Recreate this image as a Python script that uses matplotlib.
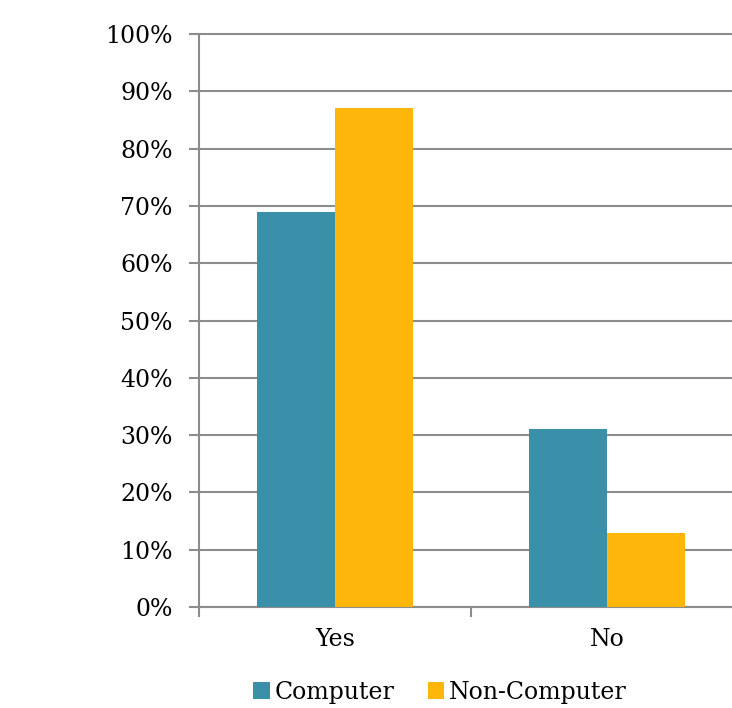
import matplotlib
matplotlib.use("Agg")
import matplotlib.pyplot as plt
import numpy as np
from matplotlib.ticker import FuncFormatter, MultipleLocator

categories = ["Yes", "No"]
series_names = ["Computer", "Non-Computer"]
computer = [69, 31]
non_computer = [87, 13]
colors = ["#3A90A8", "#FFB60B"]

plt.rcParams['font.family'] = ['DejaVu Serif']

fig = plt.figure(figsize=(7.32, 7.08), dpi=100)
W, H = 732, 708
left, right, bottom, top = 199, 743, 607, 34
ax = fig.add_axes([left / W, (H - bottom) / H, (right - left) / W, (bottom - top) / H])

x = np.arange(len(categories))
bw = 0.287
ax.bar(x - bw / 2, computer, bw, color=colors[0], label=series_names[0], zorder=3)
ax.bar(x + bw / 2, non_computer, bw, color=colors[1], label=series_names[1], zorder=3)

ax.set_xlim(-0.5, 1.5)
ax.set_ylim(0, 100)
ax.yaxis.set_major_locator(MultipleLocator(10))
ax.yaxis.set_major_formatter(FuncFormatter(lambda v, p: f"{int(v)}%"))
ax.grid(axis='y', color='#8C8C8C', linewidth=1.5, zorder=0)
for gl in ax.get_ygridlines():
    gl.set_clip_on(False)
ax.set_axisbelow(True)

for s in ['top', 'right']:
    ax.spines[s].set_visible(False)
for s in ['left', 'bottom']:
    ax.spines[s].set_color('#8C8C8C')
    ax.spines[s].set_linewidth(1.5)

ax.set_xticks([-0.5, 0.5, 1.5])
ax.set_xticklabels([])
ax.set_xticks(x, minor=True)
ax.set_xticklabels(categories, minor=True)
ax.tick_params(axis='x', which='minor', length=0, pad=15, labelsize=17)
ax.tick_params(axis='x', which='major', length=7, color='#8C8C8C', width=1.5)
ax.tick_params(axis='y', length=7, color='#8C8C8C', width=1.5, labelsize=17, pad=12)

fig.legend(loc='center', bbox_to_anchor=(440 / W, 1 - 692 / H), ncol=2, frameon=False,
           fontsize=17, handlelength=0.7, handleheight=0.7, handletextpad=0.2,
           columnspacing=1.4)

fig.savefig("out.png", dpi=100)
